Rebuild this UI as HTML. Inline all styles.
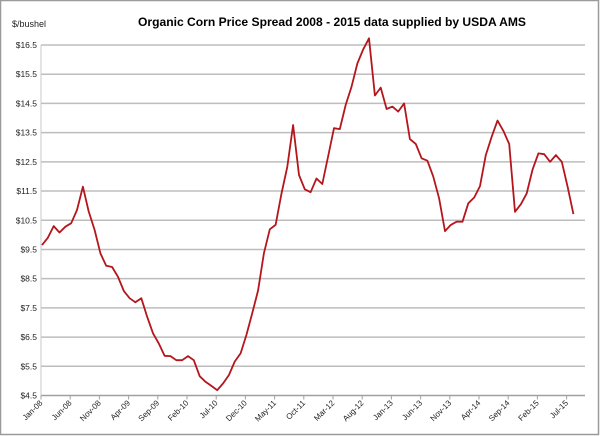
<!DOCTYPE html>
<html><head><meta charset="utf-8"><style>
html,body{margin:0;padding:0;background:#fff;}
svg{display:block;font-family:"Liberation Sans",sans-serif;}
</style></head><body>
<svg id="chart" width="600" height="436" viewBox="0 0 600 436" xmlns="http://www.w3.org/2000/svg">
<rect x="0.5" y="0.5" width="598" height="434" fill="#fff" stroke="#9a9a9a" stroke-width="1.5"/>
<text x="332" y="26" text-anchor="middle" font-size="12.2" font-weight="bold" fill="#000" textLength="388" lengthAdjust="spacingAndGlyphs">Organic Corn Price Spread 2008 - 2015 data supplied by USDA AMS</text>
<text x="12" y="27" font-size="9" fill="#222">$/bushel</text>
<g id="grid"></g><g id="yticks"></g><g id="xticks"></g><g id="series"></g>
</svg>
<script>
const yTicks = [4.5,5.5,6.5,7.5,8.5,9.5,10.5,11.5,12.5,13.5,14.5,15.5,16.5];
const xLabels = ["Jan-08","Jun-08","Nov-08","Apr-09","Sep-09","Feb-10","Jul-10","Dec-10","May-11","Oct-11","Mar-12","Aug-12","Jan-13","Jun-13","Nov-13","Apr-14","Sep-14","Feb-15","Jul-15"];
const prices = [9.65,9.9,10.3,10.08,10.28,10.4,10.85,11.65,10.8,10.17,9.37,8.94,8.9,8.57,8.08,7.83,7.69,7.83,7.2,6.63,
6.28,5.86,5.85,5.71,5.71,5.85,5.71,5.16,4.97,4.83,4.68,4.91,5.2,5.66,5.94,6.57,7.31,8.1,9.37,10.19,
10.34,11.4,12.33,13.76,12.05,11.56,11.46,11.93,11.74,12.7,13.65,13.62,14.45,15.07,15.87,16.35,16.73,14.77,15.04,14.31,
14.39,14.22,14.5,13.28,13.11,12.62,12.54,11.99,11.25,10.13,10.34,10.45,10.45,11.08,11.28,11.67,12.73,13.36,13.91,13.56,
13.11,10.79,11.05,11.42,12.24,12.79,12.76,12.5,12.73,12.5,11.65,10.71];
const NS="http://www.w3.org/2000/svg";
const X0=41, X1=585, Y0=395.5, Y1=45;
function xs(m){return X0+1+m*5.84;}
function ys(v){return Y0-(v-4.5)*(Y0-Y1)/12;}
function mk(t,attrs,parent){const e=document.createElementNS(NS,t);for(const k in attrs)e.setAttribute(k,attrs[k]);parent.appendChild(e);return e;}
const grid=document.getElementById('grid'),yt=document.getElementById('yticks'),xt=document.getElementById('xticks'),se=document.getElementById('series');
yTicks.forEach(v=>{
  const y=ys(v);
  if(v>4.5){const l=mk('line',{x1:X0,x2:X1,y1:y,y2:y,stroke:'#bdbdbd','stroke-width':1.5},grid);
  
  }
  const t=mk('text',{x:37,y:y+3,'text-anchor':'end','font-size':8.5,fill:'#222'},yt);
  t.textContent='$'+v.toFixed(1);
  
  
});
const ax=mk('line',{x1:X0,x2:X1,y1:Y0,y2:Y0,stroke:'#a0a0a0','stroke-width':1.5},grid);


const ay=mk('line',{x1:X0,x2:X0,y1:Y1,y2:Y0,stroke:'#c8c8c8','stroke-width':1},grid);


xLabels.forEach((lab,i)=>{
  const x=X0+i*5*5.84;
  const tk=mk('line',{x1:x,x2:x,y1:Y0,y2:Y0+4,stroke:'#a0a0a0','stroke-width':1},xt);
  
  
  const t=mk('text',{x:x+2,y:Y0+8,'text-anchor':'end','font-size':8,fill:'#222',transform:`rotate(-45 ${x+2} ${Y0+8})`},xt);
  t.textContent=lab;
  
  
});
const pts=prices.map((v,i)=>xs(i).toFixed(1)+','+ys(v).toFixed(1)).join(' ');
const pl=mk('polyline',{points:pts,fill:'none',stroke:'#b4161c','stroke-width':1.8,'stroke-linejoin':'round'},se);


</script>
</body></html>
